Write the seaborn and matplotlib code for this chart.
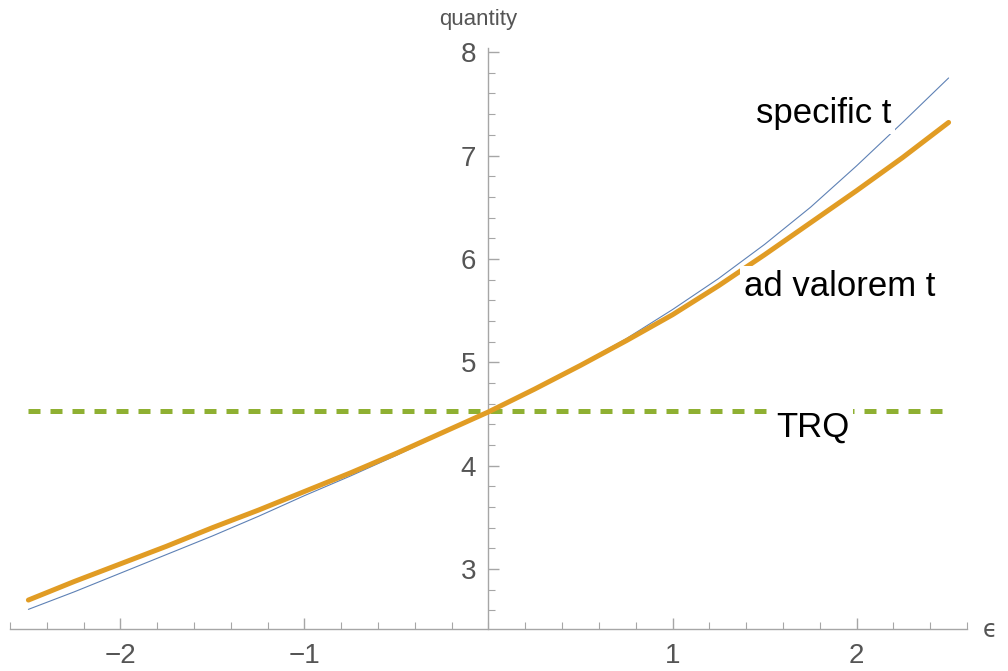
import matplotlib
matplotlib.use("Agg")
import matplotlib.pyplot as plt
import seaborn as sns
import numpy as np
import pandas as pd
from matplotlib.ticker import MultipleLocator, FixedLocator

# ---- data ----
eps = [-2.5, -2.25, -2.0, -1.75, -1.5, -1.25, -1.0, -0.75, -0.5, -0.25, 0.0,
       0.25, 0.5, 0.75, 1.0, 1.25, 1.5, 1.75, 2.0, 2.25, 2.5]
specific_t = [2.61, 2.78, 2.96, 3.14, 3.32, 3.51, 3.71, 3.90, 4.10, 4.31, 4.52,
              4.74, 4.98, 5.23, 5.51, 5.81, 6.14, 6.50, 6.90, 7.32, 7.75]
ad_valorem_t = [2.70, 2.88, 3.05, 3.22, 3.40, 3.57, 3.75, 3.93, 4.12, 4.32, 4.52,
                4.74, 4.97, 5.21, 5.46, 5.74, 6.04, 6.35, 6.66, 6.98, 7.32]
trq_level = [4.53] * len(eps)
x_ticks = [-2, -1, 1, 2]
x_tick_labels = ["\u22122", "\u22121", "1", "2"]
y_ticks = [3, 4, 5, 6, 7, 8]
labels = ["specific t", "ad valorem t", "TRQ"]
label_pos = [(1.82, 7.41), (1.91, 5.73), (1.76, 4.375)]

sns.set_style("white")
plt.rcParams["font.family"] = ["Liberation Sans", "DejaVu Sans"]

fig = plt.figure(figsize=(10.08, 6.71), dpi=100)
ax = fig.add_axes([10 / 1008, 1 - 629 / 671, 957 / 1008, 581 / 671])

df = pd.DataFrame({"eps": eps, "spec": specific_t, "adv": ad_valorem_t, "trq": trq_level})

sns.lineplot(data=df, x="eps", y="trq", ax=ax, color="#8FB032", lw=3.6, zorder=1)
ax.lines[-1].set_linestyle((0, (2.4, 2.0)))
ax.lines[-1].set_dash_capstyle("butt")
sns.lineplot(data=df, x="eps", y="spec", ax=ax, color="#5E81B5", lw=0.8, zorder=2)
sns.lineplot(data=df, x="eps", y="adv", ax=ax, color="#E19C24", lw=3.6, zorder=3)

ax.set_xlim(-2.6, 2.6)
ax.set_ylim(2.42, 8.04)
ax.set_xlabel("")
ax.set_ylabel("")

axis_col = "#a6a6a6"
tick_col = "#555555"
for s in ["top", "right"]:
    ax.spines[s].set_visible(False)
ax.spines["left"].set_position(("data", 0))
ax.spines["left"].set_color(axis_col)
ax.spines["bottom"].set_color(axis_col)
ax.spines["left"].set_linewidth(1.0)
ax.spines["bottom"].set_linewidth(1.0)

ax.xaxis.set_major_locator(FixedLocator(x_ticks))
ax.set_xticklabels(x_tick_labels)
ax.xaxis.set_minor_locator(FixedLocator(np.round(np.arange(-2.6, 2.61, 0.2), 2)))
ax.yaxis.set_major_locator(FixedLocator(y_ticks))
ax.yaxis.set_minor_locator(MultipleLocator(0.2))

ax.tick_params(axis="both", which="both", bottom=True, left=True, top=False, right=False)
ax.tick_params(axis="both", which="major", direction="in", length=8, width=1.0,
               color=axis_col, labelcolor=tick_col, labelsize=20)
ax.tick_params(axis="both", which="minor", direction="in", length=5, width=0.8,
               color=axis_col)
ax.tick_params(axis="x", which="major", pad=10)
ax.tick_params(axis="y", which="major", pad=9)

for txt, (x, y) in zip(labels, label_pos):
    ax.text(x, y, txt, fontsize=25, color="black", ha="center", va="center",
            zorder=5, bbox=dict(facecolor="white", edgecolor="none", pad=3))

fig.text(478 / 1008, 1 - 20 / 671, "quantity", fontsize=16, color=tick_col,
         ha="center", va="center")
fig.text(990 / 1008, 1 - 630 / 671, "\u03f5", fontsize=17, color=tick_col,
         ha="center", va="center", family=["DejaVu Sans"])

fig.savefig("out.png", dpi=100)
